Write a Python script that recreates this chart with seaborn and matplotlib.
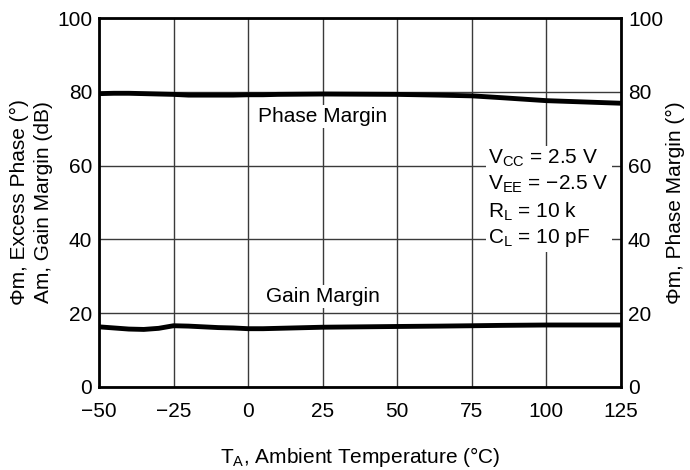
import numpy as np
import pandas as pd
import seaborn as sns
import matplotlib
matplotlib.use('Agg')
import matplotlib.pyplot as plt

# values
temp = [-50, -45, -40, -35, -30, -25, -20, -15, -10, -5, 0, 5, 10, 25, 50, 64, 75, 85, 100, 125]
phase_margin = [79.5, 79.6, 79.6, 79.5, 79.4, 79.3, 79.1, 79.1, 79.1, 79.1, 79.2, 79.2, 79.3, 79.4, 79.3, 79.1, 78.9, 78.4, 77.6, 76.9]
gain_margin = [16.3, 16.0, 15.7, 15.6, 15.9, 16.6, 16.5, 16.3, 16.1, 16.0, 15.8, 15.8, 15.9, 16.2, 16.4, 16.5, 16.6, 16.7, 16.8, 16.8]

df = pd.DataFrame({'T': temp, 'Phase': phase_margin, 'Gain': gain_margin})

sns.set_style('white')
plt.rcParams['font.family'] = ['Liberation Sans', 'DejaVu Sans']
plt.rcParams['mathtext.fontset'] = 'custom'
plt.rcParams['mathtext.rm'] = 'Liberation Sans'
plt.rcParams['mathtext.it'] = 'Liberation Sans'
plt.rcParams['text.color'] = 'black'
plt.rcParams['axes.labelcolor'] = 'black'

fs = 15

fig = plt.figure(figsize=(6.9, 4.7), dpi=100)
ax = fig.add_axes([0.1435, 0.1766, 0.9 - 0.1435, 0.9617 - 0.1766])

sns.lineplot(data=df, x='T', y='Phase', ax=ax, color='black', linewidth=3.5)
sns.lineplot(data=df, x='T', y='Gain', ax=ax, color='black', linewidth=3.5)

ax.set_xlim(-50, 125)
ax.set_ylim(0, 100)
ax.set_xticks([-50, -25, 0, 25, 50, 75, 100, 125])
ax.set_yticks([0, 20, 40, 60, 80, 100])
ax.grid(True, color='#3a3a3a', linewidth=1.0)
ax.set_axisbelow(True)
for s in ax.spines.values():
    s.set_color('black')
    s.set_linewidth(2)
ax.tick_params(axis='x', length=0, labelsize=fs, pad=11, colors='black')
ax.tick_params(axis='y', length=0, labelsize=fs, pad=5, colors='black')
ax.set_xlabel('T$_\\mathrm{A}$, Ambient Temperature (°C)', fontsize=fs, labelpad=17)
ax.set_ylabel('Φm, Excess Phase (°)\nAm, Gain Margin (dB)', fontsize=fs, labelpad=3, linespacing=1.35)

ax2 = ax.twinx()
ax2.set_ylim(0, 100)
ax2.set_yticks([0, 20, 40, 60, 80, 100])
ax2.tick_params(length=0, labelsize=fs, pad=5, colors='black')
ax2.set_ylabel('Φm, Phase Margin (°)', fontsize=fs, labelpad=2)
for s in ax2.spines.values():
    s.set_visible(False)

box = dict(facecolor='white', edgecolor='none', pad=1.5)
ax.text(25, 73.4, 'Phase Margin', ha='center', va='center', fontsize=fs, bbox=box)
ax.text(25, 24.5, 'Gain Margin', ha='center', va='center', fontsize=fs, bbox=box)

cond = ('V$_\\mathrm{CC}$ = 2.5 V\nV$_\\mathrm{EE}$ = −2.5 V\n'
        'R$_\\mathrm{L}$ = 10 k\nC$_\\mathrm{L}$ = 10 pF')
ax.text(80.5, 64.8, cond, ha='left', va='top', fontsize=fs, linespacing=1.3,
        bbox=dict(facecolor='white', edgecolor='none', pad=2))

fig.savefig('out.png', dpi=100)
